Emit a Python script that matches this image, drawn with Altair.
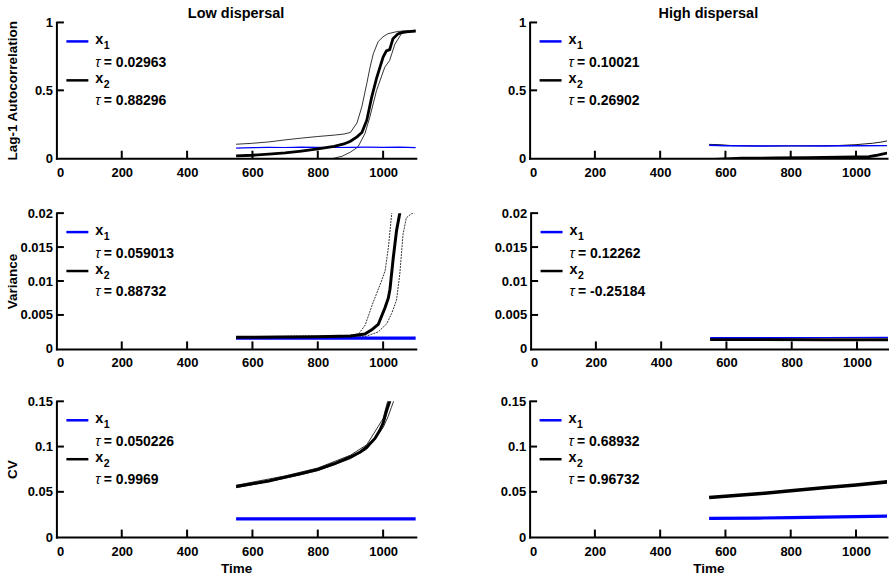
import altair as alt
import pandas as pd

FONT = "Liberation Sans"
BLUE = "#0000ff"
BLACK = "#000000"

# ---------------- Low dispersal, lag-1 autocorrelation ----------------
ac_lo_x1_t = [550, 600, 650, 700, 750, 800, 850, 900, 950, 1000, 1050, 1100]
ac_lo_x1_v = [0.075, 0.078, 0.08, 0.079, 0.081, 0.08, 0.079, 0.08, 0.081, 0.08, 0.081, 0.078]
ac_lo_x2_t = [550, 600, 650, 700, 750, 800, 850, 880, 900, 920, 935, 950, 965, 980, 1000, 1010, 1020, 1030, 1045, 1060, 1080, 1100]
ac_lo_x2_v = [0.017, 0.022, 0.03, 0.04, 0.053, 0.068, 0.088, 0.105, 0.125, 0.157, 0.19, 0.28, 0.45, 0.59, 0.745, 0.79, 0.80, 0.88, 0.915, 0.928, 0.933, 0.937]
ac_lo_hi_t = [550, 600, 650, 700, 750, 800, 850, 880, 900, 920, 935, 950, 960, 970, 985, 1000, 1015, 1045, 1100]
ac_lo_hi_v = [0.103, 0.11, 0.12, 0.135, 0.148, 0.16, 0.17, 0.178, 0.19, 0.26, 0.38, 0.55, 0.67, 0.77, 0.86, 0.895, 0.917, 0.934, 0.942]
ac_lo_lo_t = [550, 700, 800, 850, 875, 900, 923, 944, 959, 980, 1005, 1020, 1036, 1056, 1087, 1100]
ac_lo_lo_v = [-0.08, -0.05, -0.025, 0.0, 0.015, 0.045, 0.083, 0.18, 0.3, 0.5, 0.67, 0.72, 0.84, 0.917, 0.934, 0.936]

# ---------------- High dispersal, lag-1 autocorrelation ----------------
ac_hi_x1_t = [550, 600, 700, 800, 900, 1000, 1100]
ac_hi_x1_v = [0.095, 0.092, 0.09, 0.091, 0.09, 0.092, 0.093]
ac_hi_hi_t = [550, 580, 620, 700, 800, 900, 950, 1000, 1050, 1080, 1100]
ac_hi_hi_v = [0.102, 0.1, 0.093, 0.09, 0.091, 0.092, 0.094, 0.1, 0.11, 0.12, 0.13]
ac_hi_x2_t = [550, 650, 750, 850, 950, 1000, 1040, 1060, 1080, 1100]
ac_hi_x2_v = [-0.01, 0.0, 0.002, 0.004, 0.007, 0.009, 0.012, 0.02, 0.03, 0.04]

# ---------------- Low dispersal, variance ----------------
var_lo_x1_t = [550, 700, 850, 1000, 1100]
var_lo_x1_v = [0.00158, 0.0016, 0.0016, 0.0016, 0.0016]
var_lo_x2_t = [550, 700, 800, 900, 944, 965, 985, 1006, 1016, 1021, 1031, 1041, 1051, 1060]
var_lo_x2_v = [0.0017, 0.00175, 0.0018, 0.0019, 0.0022, 0.0028, 0.0036, 0.0061, 0.0075, 0.0088, 0.0134, 0.0174, 0.0200, 0.022]
var_lo_hi_t = [550, 800, 900, 925, 945, 969, 995, 1006, 1016, 1026, 1030]
var_lo_hi_v = [0.0018, 0.0019, 0.002, 0.0022, 0.0035, 0.0068, 0.0100, 0.0115, 0.0149, 0.0198, 0.0215]
var_lo_lo_t = [550, 800, 900, 944, 985, 1011, 1026, 1041, 1051, 1061, 1071, 1086, 1100]
var_lo_lo_v = [0.0016, 0.0017, 0.0018, 0.0018, 0.0025, 0.0037, 0.0052, 0.0072, 0.011, 0.0169, 0.0193, 0.0199, 0.0201]

# ---------------- High dispersal, variance ----------------
var_hi_x1_t = [550, 700, 900, 1100]
var_hi_x1_v = [0.00165, 0.00166, 0.00168, 0.0017]
var_hi_x2_t = [550, 700, 900, 1100]
var_hi_x2_v = [0.0014, 0.00138, 0.00136, 0.00135]

# ---------------- Low dispersal, CV ----------------
cv_lo_x1_t = [550, 700, 850, 1000, 1100]
cv_lo_x1_v = [0.0201, 0.0202, 0.0202, 0.0202, 0.0202]
cv_lo_x2_t = [550, 600, 650, 700, 750, 800, 850, 900, 930, 950, 975, 990, 1000, 1010, 1020, 1025]
cv_lo_x2_v = [0.0558, 0.059, 0.062, 0.0662, 0.0703, 0.0748, 0.081, 0.0885, 0.094, 0.0995, 0.109, 0.118, 0.126, 0.139, 0.150, 0.158]
cv_lo_hi_t = [550, 700, 800, 900, 950, 1000, 1010, 1016]
cv_lo_hi_v = [0.0572, 0.0676, 0.0763, 0.0905, 0.102, 0.131, 0.145, 0.153]
cv_lo_lo_t = [550, 700, 800, 900, 950, 1000, 1015, 1025, 1033]
cv_lo_lo_v = [0.0545, 0.0649, 0.0733, 0.0866, 0.0972, 0.121, 0.133, 0.143, 0.151]

# ---------------- High dispersal, CV ----------------
cv_hi_x1_t = [550, 700, 800, 900, 1000, 1100]
cv_hi_x1_v = [0.0206, 0.021, 0.0215, 0.022, 0.0225, 0.0232]
cv_hi_x2_t = [550, 600, 700, 800, 900, 1000, 1100]
cv_hi_x2_v = [0.0438, 0.0452, 0.0478, 0.0512, 0.0545, 0.0575, 0.0612]

# Kendall tau values shown in the legends
tau_ac_lo = ["0.02963", "0.88296"]
tau_ac_hi = ["0.10021", "0.26902"]
tau_var_lo = ["0.059013", "0.88732"]
tau_var_hi = ["0.12262", "-0.25184"]
tau_cv_lo = ["0.050226", "0.9969"]
tau_cv_hi = ["0.68932", "0.96732"]

x_ticks = [0, 200, 400, 600, 800, 1000]
ac_ticks = [0, 0.5, 1]
var_ticks = [0, 0.005, 0.01, 0.015, 0.02]
cv_ticks = [0, 0.05, 0.1, 0.15]

H = 136
W_LEFT = 360
W_RIGHT = 358
XMAX_LEFT = 1100
XMAX_RIGHT = 1095  # right column is cut at the image edge
ONE = pd.DataFrame({"k": [0]})


def text_layer(txt, x, y, size, weight="bold", style="normal", color="black"):
    return alt.Chart(ONE).mark_text(
        align="left", baseline="middle", font=FONT, fontSize=size,
        fontWeight=weight, fontStyle=style, color=color
    ).encode(x=alt.value(x), y=alt.value(y), text=alt.value(txt))


def panel(series, ydom, yticks, ytitle, title, xmax, width, xtitle, taus):
    xs = alt.Scale(domain=[0, xmax], nice=False, zero=False)
    ys = alt.Scale(domain=ydom, nice=False, zero=False)
    xaxis = alt.Axis(values=x_ticks, format="d", ticks=False, tickSize=0,
                     grid=False, labelPadding=8, minExtent=23, maxExtent=23,
                     titlePadding=1)
    yaxis = alt.Axis(values=yticks, labelExpr="'' + datum.value",
                     ticks=False, tickSize=0,
                     grid=False, labelPadding=4, minExtent=36, maxExtent=36,
                     titlePadding=0.5)

    def X():
        return alt.X("t:Q", scale=xs, axis=xaxis, title=xtitle)

    def Y():
        return alt.Y("v:Q", scale=ys, axis=yaxis, title=ytitle)

    layers = []
    for (t, v, color, sw, dash) in series:
        df = pd.DataFrame({"t": t, "v": v})
        kw = dict(clip=True, color=color, strokeWidth=sw)
        if dash:
            kw["strokeDash"] = dash
        layers.append(alt.Chart(df).mark_line(**kw).encode(x=X(), y=Y()))
    # inward tick marks
    xt = pd.DataFrame({"t": x_ticks[1:]})
    layers.append(alt.Chart(xt).mark_rule(color="black", strokeWidth=2).encode(
        x=X(), y=alt.value(H - 7.5), y2=alt.value(H)))
    yt = pd.DataFrame({"v": yticks[1:]})
    layers.append(alt.Chart(yt).mark_rule(color="black", strokeWidth=2).encode(
        y=Y(), x=alt.value(0), x2=alt.value(7.5)))
    # legend
    layers.append(alt.Chart(ONE).mark_rule(color=BLUE, strokeWidth=2.5).encode(
        x=alt.value(10), x2=alt.value(32), y=alt.value(19)))
    layers.append(alt.Chart(ONE).mark_rule(color=BLACK, strokeWidth=2.5).encode(
        x=alt.value(10), x2=alt.value(32), y=alt.value(58)))
    layers += [
        text_layer("x", 39, 17.5, 14.5),
        text_layer("1", 47.5, 23.5, 10.5),
        text_layer("\u03c4", 39, 40.5, 14, weight="normal", style="italic"),
        text_layer("= " + taus[0], 47.5, 40.5, 14),
        text_layer("x", 39, 56.5, 14.5),
        text_layer("2", 47.5, 62.5, 10.5),
        text_layer("\u03c4", 39, 79, 14, weight="normal", style="italic"),
        text_layer("= " + taus[1], 47.5, 79, 14),
    ]
    ch = alt.layer(*layers)
    props = dict(width=width, height=H)
    if title:
        props["title"] = alt.Title(title, fontSize=14.5, fontWeight="bold",
                                   font=FONT, offset=-5, frame="group",
                                   anchor="middle")
    return ch.properties(**props)


pA = panel([
    (ac_lo_hi_t, ac_lo_hi_v, BLACK, 0.8, None),
    (ac_lo_lo_t, ac_lo_lo_v, BLACK, 0.8, None),
    (ac_lo_x1_t, ac_lo_x1_v, BLUE, 1.2, None),
    (ac_lo_x2_t, ac_lo_x2_v, BLACK, 2.8, None),
], [0, 1], ac_ticks, "Lag-1 Autocorrelation", "Low dispersal", XMAX_LEFT, W_LEFT, None, tau_ac_lo)

pB = panel([
    (ac_hi_hi_t, ac_hi_hi_v, BLACK, 0.9, None),
    (ac_hi_x1_t, ac_hi_x1_v, BLUE, 1.4, None),
    (ac_hi_x2_t, ac_hi_x2_v, BLACK, 2.8, None),
], [0, 1], ac_ticks, None, "High dispersal", XMAX_RIGHT, W_RIGHT, None, tau_ac_hi)

pC = panel([
    (var_lo_hi_t, var_lo_hi_v, BLACK, 0.8, [2, 1]),
    (var_lo_lo_t, var_lo_lo_v, BLACK, 0.8, [2, 1]),
    (var_lo_x1_t, var_lo_x1_v, BLUE, 3.2, None),
    (var_lo_x2_t, var_lo_x2_v, BLACK, 3.0, None),
], [0, 0.02], var_ticks, "Variance", None, XMAX_LEFT, W_LEFT, None, tau_var_lo)

pD = panel([
    (var_hi_x2_t, var_hi_x2_v, BLACK, 3.0, None),
    (var_hi_x1_t, var_hi_x1_v, BLUE, 1.2, None),
], [0, 0.02], var_ticks, None, None, XMAX_RIGHT, W_RIGHT, None, tau_var_hi)

pE = panel([
    (cv_lo_hi_t, cv_lo_hi_v, BLACK, 0.8, None),
    (cv_lo_lo_t, cv_lo_lo_v, BLACK, 0.8, None),
    (cv_lo_x1_t, cv_lo_x1_v, BLUE, 3.2, None),
    (cv_lo_x2_t, cv_lo_x2_v, BLACK, 3.0, None),
], [0, 0.15], cv_ticks, "CV", None, XMAX_LEFT, W_LEFT, "Time", tau_cv_lo)

pF = panel([
    (cv_hi_x1_t, cv_hi_x1_v, BLUE, 3.2, None),
    (cv_hi_x2_t, cv_hi_x2_v, BLACK, 3.6, None),
], [0, 0.15], cv_ticks, None, None, XMAX_RIGHT, W_RIGHT, "Time", tau_cv_hi)

chart = alt.vconcat(
    alt.vconcat(
        alt.hconcat(pA, pB, spacing=76),
        alt.hconcat(pC, pD, spacing=76),
        spacing=24,
    ),
    alt.hconcat(pE, pF, spacing=76),
    spacing=21.5,
).properties(
    padding={"left": 4.5, "top": 5, "right": 0, "bottom": 0},
    background="white",
).configure_view(
    stroke="transparent"
).configure_axis(
    labelFont=FONT, labelFontSize=13, labelFontWeight="bold", labelColor="black",
    titleFont=FONT, titleFontSize=13.5, titleFontWeight="bold", titleColor="black",
    domainColor="black", domainWidth=2, domainCap="square",
)

chart.save("out.html", embed_options={"renderer": "svg", "actions": False})
